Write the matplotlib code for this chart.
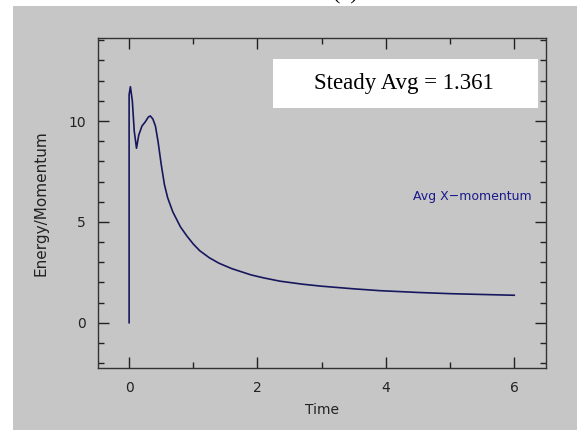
import matplotlib.pyplot as plt
from matplotlib.patches import Rectangle
from matplotlib.ticker import MultipleLocator

# values
time = [0.0, 0.0, 0.02, 0.05, 0.08, 0.115, 0.15, 0.2, 0.25, 0.3, 0.33, 0.37,
        0.41, 0.45, 0.5, 0.55, 0.6, 0.68, 0.8, 0.9, 1.0, 1.1, 1.25, 1.4, 1.6,
        1.9, 2.1, 2.35, 2.7, 3.0, 3.5, 3.9, 4.5, 5.0, 5.5, 6.0]
x_momentum = [0.0, 11.3, 11.7, 11.0, 9.5, 8.65, 9.3, 9.75, 9.95, 10.2, 10.25,
              10.1, 9.75, 9.0, 7.85, 6.85, 6.2, 5.5, 4.75, 4.3, 3.9, 3.57,
              3.22, 2.95, 2.68, 2.37, 2.22, 2.06, 1.91, 1.81, 1.68, 1.59,
              1.5, 1.44, 1.40, 1.361]
steady_avg = 1.361
series_label = "Avg X\u2212momentum"

bg = "#c6c6c6"
line_col = "#17175e"

fig = plt.figure(figsize=(5.77, 4.30), dpi=100)
fig.patch.set_facecolor("white")
fig.patches.append(Rectangle((13 / 577, 0), 1, 1 - 5.5 / 430,
                             transform=fig.transFigure, facecolor=bg,
                             edgecolor="none", zorder=-5))
fig.text(345 / 577, 1 - 4 / 430, "(c)", ha="center", va="bottom",
         family="Liberation Serif", fontsize=16)

ax = fig.add_axes([98.3 / 577, 1 - 368.3 / 430, 447.4 / 577, 330.8 / 430])
ax.set_zorder(1)
ax.set_facecolor(bg)
ax.plot(time, x_momentum, color=line_col, lw=1.2)

ax.set_xlim(-0.48, 6.49)
ax.set_ylim(-2.26, 14.14)
ax.xaxis.set_major_locator(MultipleLocator(2))
ax.xaxis.set_minor_locator(MultipleLocator(1))
ax.yaxis.set_major_locator(MultipleLocator(5))
ax.yaxis.set_minor_locator(MultipleLocator(1))
ax.tick_params(which="both", direction="in", top=True, right=True,
               color="#222222", labelsize=10, labelcolor="#222222")
ax.tick_params(which="major", length=8, width=1)
ax.tick_params(which="minor", length=4, width=1)
ax.tick_params(axis="x", pad=9)
ax.tick_params(axis="y", pad=9)
for s in ax.spines.values():
    s.set_color("#333333")
    s.set_linewidth(1)

ax.set_xlabel("Time", fontsize=10, color="#222222", labelpad=6)
ax.set_ylabel("Energy/Momentum", fontsize=11, color="#222222", labelpad=14)

ax.text(6.27, 6.25, series_label, ha="right", va="center", fontsize=9,
        color="#1a1a8c")

fig.patches.append(Rectangle((273 / 577, 1 - 107.7 / 430), 265 / 577,
                             48.7 / 430, transform=fig.transFigure,
                             facecolor="white", edgecolor="none", zorder=5))
fig.text(403.5 / 577, 1 - 83 / 430, f"Steady Avg = {steady_avg:.3f}",
         ha="center", va="center", family="Liberation Serif", fontsize=16.5,
         zorder=6)

plt.savefig("out.png", dpi=100)
